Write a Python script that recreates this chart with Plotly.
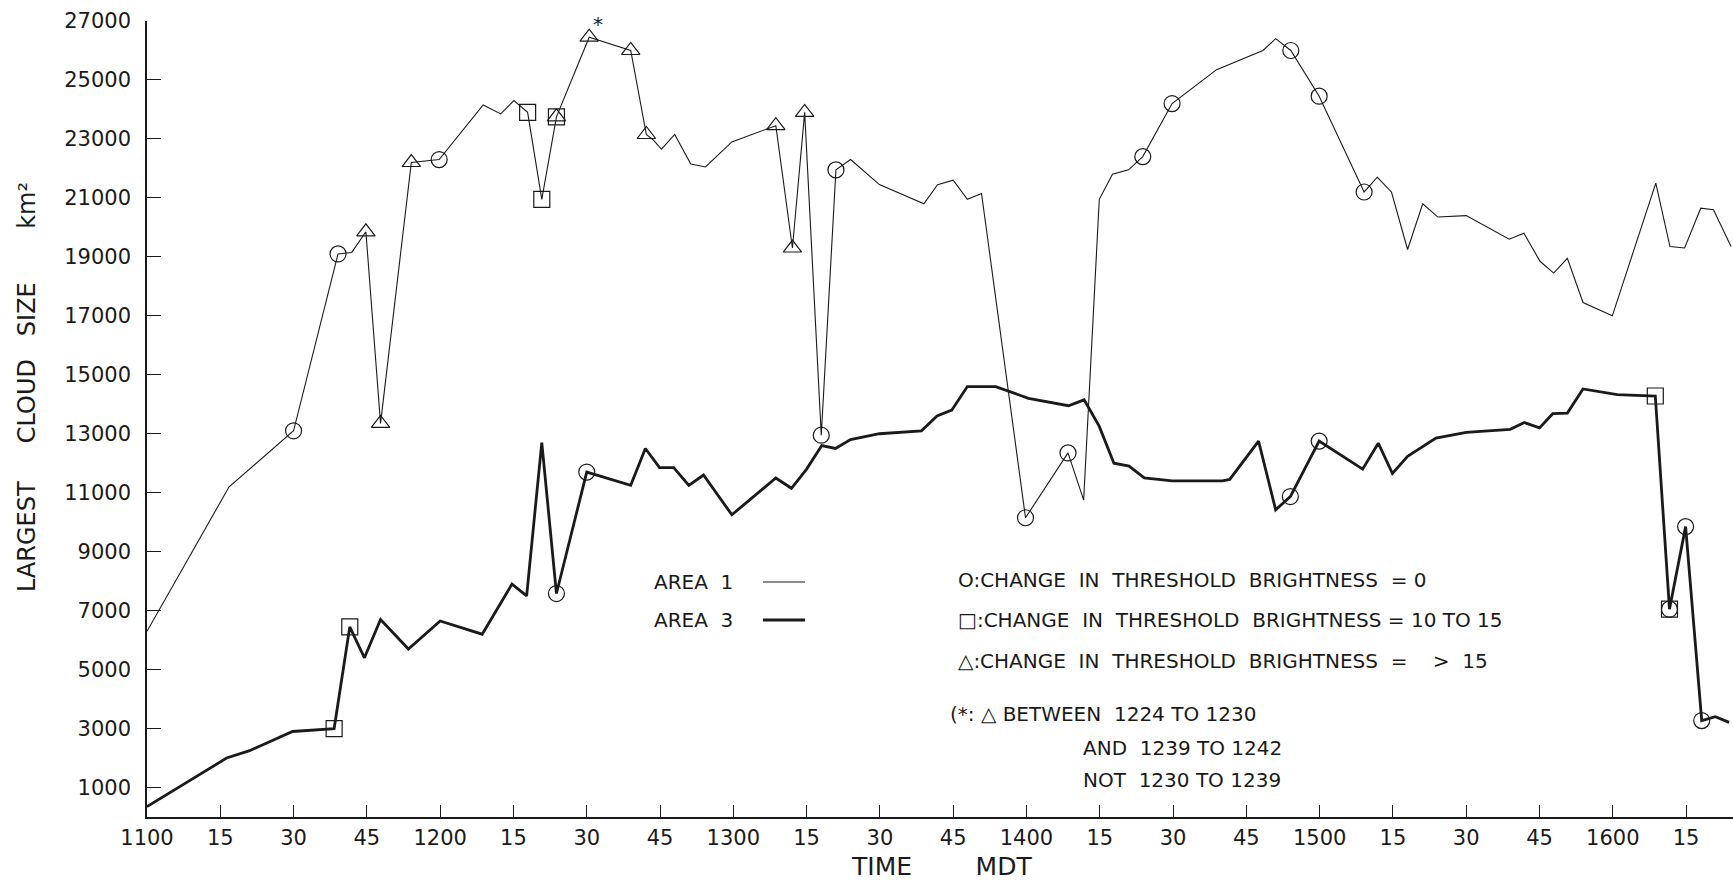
import plotly.graph_objects as go

# ===== DATA (minutes after 1100 MDT, km^2) =====
# mark: o = circle, s = square, t = triangle, st / so = two symbols on one point
area1_min = [0, 16.8, 30, 39.1, 41.9, 44.8, 47.8, 54.1, 59.8, 68.8, 72.4, 75.1, 77.9, 80.8, 83.8,
             90.5, 99, 102.2, 103.7, 105.3, 108, 111.3, 114.3, 119.7, 128.7, 132.1, 134.6, 138, 141,
             144, 149.9, 159, 161.8, 165, 167.9, 170.8, 179.8, 188.5, 191.7, 194.9, 197.6, 200.9,
             203.8, 209.8, 218.9, 228.4, 231, 234.1, 239.9, 249.1, 251.8, 254.7, 258, 261.1, 264.2,
             270, 278.8, 281.8, 285.1, 287.9, 290.7, 293.9, 299.9, 308.8, 311.7, 314.7, 318, 320.6, 324.2]
area1_val = [6300, 11200, 13100, 19100, 19150, 19850, 13350, 22200, 22300, 24150, 23850, 24300, 23900, 20950, 23750,
             26450, 26000, 23150, 22950, 22650, 23150, 22150, 22050, 22900, 23450, 19300, 23900, 12950, 21950,
             22300, 21450, 20800, 21450, 21600, 20950, 21150, 10150, 12350, 10750, 20950, 21800, 21950,
             22400, 24200, 25350, 26000, 26400, 26000, 24450, 21200, 21700, 21200, 19250, 20800, 20350,
             20400, 19600, 19800, 18850, 18450, 18950, 17450, 17000, 21500, 19350, 19300, 20650, 20600, 19350]
area1_mark = ['', '', 'o', 'o', '', 't', 't', 't', 'o', '', '', '', 's', 's', 'st',
              't', 't', 't', '', '', '', '', '', '', 't', 't', 't', 'o', 'o',
              '', '', '', '', '', '', '', 'o', 'o', '', '', '', '',
              'o', 'o', '', '', '', 'o', 'o', 'o', '', '', '', '', '',
              '', '', '', '', '', '', '', '', '', '', '', '', '', '']

area3_min = [0, 16.3, 21, 29.8, 38.3, 41.5, 44.5, 47.8, 53.5, 60, 68.6, 74.7, 77.7, 80.8, 83.8, 90,
             99, 102, 104.9, 107.8, 110.9, 113.9, 119.7, 128.7, 131.9, 135, 138.1, 140.9, 144, 149.9,
             158.5, 161.7, 164.7, 167.9, 173.7, 180.4, 188.6, 191.8, 194.9, 197.9, 201, 204.1, 209.8,
             220.1, 221.6, 227.5, 231, 234, 239.9, 248.8, 252, 254.9, 258, 263.8, 270, 279, 281.9,
             285, 287.7, 290.7, 293.9, 300.9, 308.7, 311.6, 314.9, 318.2, 321, 323.8]
area3_val = [350, 2000, 2250, 2900, 3000, 6450, 5400, 6700, 5700, 6650, 6200, 7900, 7500, 12700, 7580, 11700,
             11250, 12500, 11850, 11850, 11250, 11600, 10250, 11500, 11150, 11800, 12600, 12500, 12800, 13000,
             13100, 13600, 13800, 14600, 14600, 14200, 13950, 14150, 13250, 12000, 11900, 11500, 11400,
             11400, 11450, 12750, 10420, 10870, 12750, 11800, 12680, 11650, 12230, 12850, 13050, 13150, 13380,
             13200, 13680, 13700, 14520, 14330, 14280, 7050, 9850, 3270, 3400, 3210]
area3_mark = ['', '', '', '', 's', 's', '', '', '', '', '', '', '', '', 'o', 'o',
              '', '', '', '', '', '', '', '', '', '', '', '', '', '',
              '', '', '', '', '', '', '', '', '', '', '', '', '',
              '', '', '', '', 'o', 'o', '', '', '', '', '', '', '', '',
              '', '', '', '', '', 's', 'so', 'o', 'o', '', '']

x_tick_vals = list(range(0, 316, 15))
x_tick_text = ['1100', '15', '30', '45', '1200', '15', '30', '45', '1300', '15', '30', '45',
               '1400', '15', '30', '45', '1500', '15', '30', '45', '1600', '15']
y_tick_vals = list(range(1000, 27001, 2000))
y_tick_text = [str(v) for v in y_tick_vals]

FONT = "DejaVu Sans"
INK = "#1a1a1a"

# ===== FIGURE =====
fig = go.Figure()

fig.add_trace(go.Scatter(x=area1_min, y=area1_val, mode='lines',
                         line=dict(color=INK, width=1.1), showlegend=False))
fig.add_trace(go.Scatter(x=area3_min, y=area3_val, mode='lines',
                         line=dict(color=INK, width=2.8), showlegend=False))

# marker overlays per symbol
symbols = {'o': 'circle-open', 's': 'square-open', 't': 'triangle-up-open'}
for xs, ys, marks in [(area1_min, area1_val, area1_mark), (area3_min, area3_val, area3_mark)]:
    for code, sym in symbols.items():
        px = [x for x, m in zip(xs, marks) if code in m]
        py = [y for y, m in zip(ys, marks) if code in m]
        if not px:
            continue
        fig.add_trace(go.Scatter(x=px, y=py, mode='markers', showlegend=False,
                                 marker=dict(symbol=sym, size=16, color=INK,
                                             line=dict(color=INK, width=1.2))))

# ===== AXES =====
fig.update_xaxes(range=[0, 324.6], tickvals=x_tick_vals, ticktext=x_tick_text,
                 ticks='inside', ticklen=12, tickwidth=1.3, tickcolor=INK,
                 showline=True, linecolor=INK, linewidth=1.5,
                 showgrid=False, zeroline=False, ticklabelstandoff=1,
                 tickfont=dict(family=FONT, size=21, color=INK))
fig.update_yaxes(range=[0, 27000], tickvals=y_tick_vals, ticktext=y_tick_text,
                 ticks='inside', ticklen=14, tickwidth=1.3, tickcolor=INK,
                 showline=True, linecolor=INK, linewidth=1.5,
                 showgrid=False, zeroline=False, ticklabelstandoff=10,
                 tickfont=dict(family=FONT, size=21, color=INK))

# ===== TEXT =====
def note(text, x, y, size=20, xanchor='left', yanchor='middle', **kw):
    fig.add_annotation(text=text, x=x, y=y, xref='paper', yref='paper', showarrow=False,
                       xanchor=xanchor, yanchor=yanchor,
                       font=dict(family=FONT, size=size, color=INK), **kw)

sp = '\u00a0'
note('LARGEST' + sp * 5 + 'CLOUD' + sp * 3 + 'SIZE' + sp * 7 + 'km²', -0.0757, 0.54,
     size=24, xanchor='center', textangle=-90)
note('TIME' + sp * 8 + 'MDT', 0.501, -0.0616, size=25, xanchor='center')

note('AREA' + sp * 2 + '1', 0.3184, 0.2952)
note('AREA' + sp * 2 + '3', 0.3184, 0.2475)
fig.add_shape(type='line', xref='paper', yref='paper', x0=0.3884, x1=0.4149, y0=0.2952, y1=0.2952,
              line=dict(color=INK, width=1.1))
fig.add_shape(type='line', xref='paper', yref='paper', x0=0.3884, x1=0.4149, y0=0.2475, y1=0.2475,
              line=dict(color=INK, width=2.8))

gap = sp * 2
note('O:CHANGE' + gap + 'IN' + gap + 'THRESHOLD' + gap + 'BRIGHTNESS' + gap + '=' + sp + '0', 0.5101, 0.2977)
note('□:CHANGE' + gap + 'IN' + gap + 'THRESHOLD' + gap + 'BRIGHTNESS = 10 TO 15', 0.5101, 0.2475)
note('△:CHANGE' + gap + 'IN' + gap + 'THRESHOLD' + gap + 'BRIGHTNESS' + gap + '=' + sp * 4 + '>' + gap + '15',
     0.5101, 0.196)
note('(*: △ BETWEEN' + gap + '1224 TO 1230', 0.505, 0.1294)
note('AND' + gap + '1239 TO 1242', 0.5889, 0.0867)
note('NOT' + gap + '1230 TO 1239', 0.5889, 0.0465)

fig.add_annotation(text='*', x=92.3, y=26900, xref='x', yref='y', showarrow=False,
                   font=dict(family=FONT, size=20, color=INK))

fig.update_layout(width=1733, height=882, plot_bgcolor='white', paper_bgcolor='white',
                  margin=dict(l=147, r=0, t=21, b=65), showlegend=False)

# drop the page's default body margin so the figure fills the window exactly
fig.write_html("out.html", config={'displayModeBar': False},
               post_script="document.body.style.margin='0';")
